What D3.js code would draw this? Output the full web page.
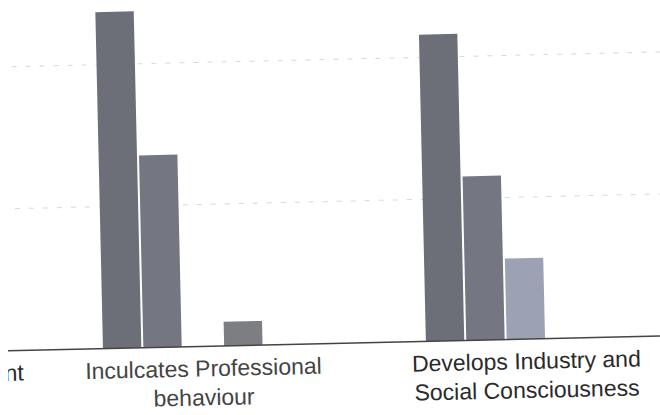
<!DOCTYPE html>
<html>
<head>
<meta charset="utf-8">
<script src="https://cdn.jsdelivr.net/npm/d3@7"></script>
<style>
  html, body { margin: 0; padding: 0; background: #fff; }
  svg { display: block; }
</style>
</head>
<body>
<svg id="chart" width="660" height="415"></svg>
<script>
// ---- data ----
const categories = ["Promotes Self Development", "Inculcates Professional behaviour", "Develops Industry and Social Consciousness"];
const categoryLines = [["Promotes Self Development"], ["Inculcates Professional", "behaviour"], ["Develops Industry and", "Social Consciousness"]];
const series = ["S1", "S2", "S3", "S4", "S5"];
const seriesColors = ["#6d6f78", "#747782", "#9ca2b3", "#7d7e83", "#8a8d96"];
// values per series, per category (first category is cut off in the picture)
const valuesS1 = [null, 47.4, 43.2];
const valuesS2 = [null, 27.1, 23.1];
const valuesS3 = [null, 0, 11.4];
const valuesS4 = [null, 3.4, 0];
const valuesS5 = [null, 0, 0];
const gridTicks = [20, 40];

const allValues = [valuesS1, valuesS2, valuesS3, valuesS4, valuesS5];

const svg = d3.select("#chart");
svg.append("defs").append("clipPath").attr("id", "crop")
  .append("rect").attr("x", 8).attr("y", 0).attr("width", 660).attr("height", 415);

const baseY = 351;
const outer = svg.append("g").attr("clip-path", "url(#crop)");
const g = outer.append("g").attr("transform", `rotate(-1.3, 0, ${baseY})`);

const x0 = d3.scaleBand().domain(categories).range([-220, 626]).paddingInner(123 / 323).paddingOuter(0);
const x1 = d3.scaleBand().domain(series).range([0, x0.bandwidth()]).paddingInner(0.05);
const y = d3.scaleLinear().domain([0, 50]).range([baseY, baseY - 355]);

// grid
g.selectAll("line.grid").data(gridTicks).join("line")
  .attr("class", "grid")
  .attr("x1", -10).attr("x2", 680)
  .attr("y1", d => y(d)).attr("y2", d => y(d))
  .attr("stroke", "#d8d8d8").attr("stroke-width", 1)
  .attr("stroke-dasharray", "5,9");

// bars
const rows = [];
categories.forEach((c, ci) => {
  series.forEach((s, si) => {
    const v = allValues[si][ci];
    if (v != null && v > 0) rows.push({ c, s, v, si });
  });
});
g.selectAll("rect.bar").data(rows).join("rect")
  .attr("class", "bar")
  .attr("x", d => x0(d.c) + x1(d.s))
  .attr("width", x1.bandwidth())
  .attr("y", d => y(d.v))
  .attr("height", d => y(0) - y(d.v))
  .attr("fill", d => seriesColors[d.si]);

// baseline
g.append("line")
  .attr("x1", 8).attr("x2", 690)
  .attr("y1", y(0)).attr("y2", y(0))
  .attr("stroke", "#444").attr("stroke-width", 1.6);

// x axis labels
const axis = d3.axisBottom(x0).tickSize(0).tickFormat("");
const ax = g.append("g").attr("transform", `translate(0, ${baseY})`).call(axis);
ax.select(".domain").remove();
ax.selectAll(".tick").each(function(d, i) {
  const t = d3.select(this).append("text")
    .attr("text-anchor", "middle")
    .attr("fill", i === 1 ? "#444" : "#2a2a2a")
    .style("font-family", "'Liberation Sans', Arial, sans-serif")
    .style("font-size", "23px");
  categoryLines[i].forEach((line, li) => {
    t.append("tspan").attr("x", 0).attr("y", 30 + li * 29).text(line);
  });
});
</script>
</body>
</html>
